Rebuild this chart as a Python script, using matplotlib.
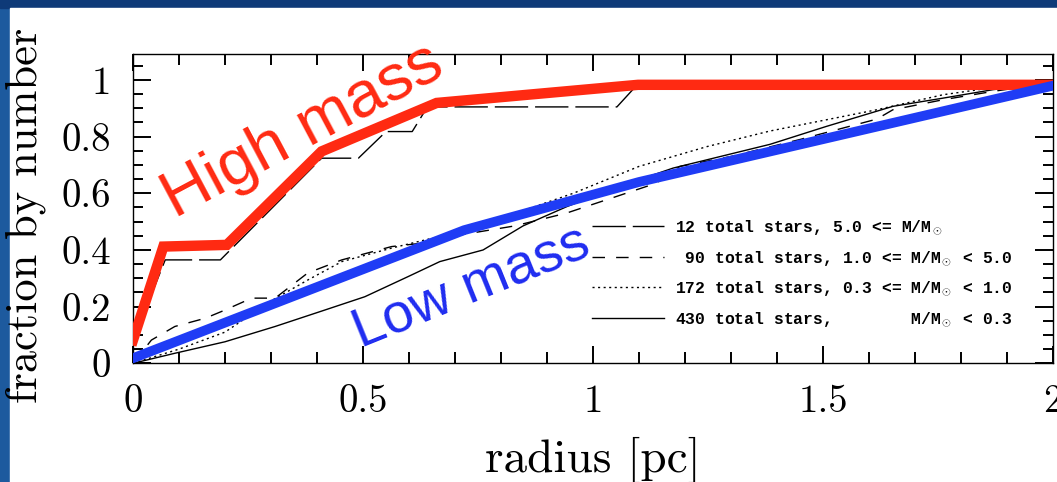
import matplotlib
matplotlib.use('Agg')
import matplotlib.pyplot as plt
from matplotlib.patches import Rectangle
from matplotlib.ticker import MultipleLocator, FuncFormatter

# high mass: 12 stars, long dash
hi_x = [0.0, 0.07, 0.19, 0.41, 0.49, 0.55, 0.607, 0.64, 1.052, 1.10, 2.0]
hi_y = [0.08, 0.365, 0.365, 0.724, 0.724, 0.818, 0.818, 0.905, 0.905, 0.99, 0.99]

# 90 stars, short dash
mid_x = [0.0, 0.04, 0.091, 0.157, 0.2, 0.258, 0.309, 0.38, 0.454, 0.562, 0.634, 0.70,
         0.83, 0.942, 1.029, 1.138, 1.189, 1.3, 1.45, 1.617, 1.652, 1.76, 1.87, 2.0]
mid_y = [0.0, 0.082, 0.13, 0.159, 0.188, 0.23, 0.23, 0.319, 0.365, 0.412, 0.425, 0.45,
         0.485, 0.53, 0.577, 0.636, 0.695, 0.73, 0.79, 0.862, 0.895, 0.93, 0.96, 0.99]

# 172 stars, dotted
dot_x = [0.0, 0.1, 0.2, 0.3, 0.38, 0.454, 0.563, 0.672, 0.74, 0.85, 0.957, 1.10,
         1.248, 1.385, 1.617, 1.761, 1.9, 2.0]
dot_y = [0.0, 0.05, 0.11, 0.22, 0.294, 0.359, 0.407, 0.45, 0.486, 0.54, 0.60, 0.695,
         0.765, 0.82, 0.895, 0.948, 0.98, 0.99]

# 430 stars, solid
low_x = [0.0, 0.09, 0.2, 0.309, 0.417, 0.504, 0.598, 0.667, 0.761, 0.848, 0.943, 1.05,
         1.174, 1.385, 1.507, 1.652, 1.761, 1.87, 2.0]
low_y = [0.0, 0.035, 0.076, 0.13, 0.188, 0.235, 0.306, 0.359, 0.40, 0.485, 0.553, 0.62,
         0.689, 0.773, 0.836, 0.907, 0.936, 0.966, 0.99]

# hand drawn summary lines
red_x = [0.0, 0.066, 0.204, 0.41, 0.66, 1.098, 2.0]
red_y = [0.082, 0.412, 0.418, 0.748, 0.919, 0.983, 0.983]
blue_x = [0.0, 0.72, 1.1, 2.0]
blue_y = [0.018, 0.47, 0.64, 0.98]

labels = [
    r'12 total stars, 5.0 <= M/M$_\odot$',
    r' 90 total stars, 1.0 <= M/M$_\odot$ < 5.0',
    r'172 total stars, 0.3 <= M/M$_\odot$ < 1.0',
    r'430 total stars,        M/M$_\odot$ < 0.3',
]

plt.rcParams['mathtext.fontset'] = 'custom'
plt.rcParams['mathtext.rm'] = 'Liberation Mono:bold'
plt.rcParams['mathtext.it'] = 'Liberation Mono:bold'
plt.rcParams['mathtext.bf'] = 'Liberation Mono:bold'

fig = plt.figure(figsize=(10.57, 4.82), dpi=100, facecolor='#1d5a9e')
W, H = 1057, 482
fig.patches.append(Rectangle((0, 1 - 8 / H), 1, 8 / H, transform=fig.transFigure,
                             color='#0e3a78', zorder=-10))
fig.patches.append(Rectangle((10 / W, 0), 1, 1 - 8 / H, transform=fig.transFigure,
                             color='white', zorder=-10))

ax = fig.add_axes([133 / W, (H - 363.3) / H, 920 / W, (363.3 - 54.5) / H])
ax.set_facecolor('white')

l1, = ax.plot(hi_x, hi_y, color='black', lw=1.0, dashes=(24, 5), zorder=2)
l2, = ax.plot(mid_x, mid_y, color='black', lw=1.0, dashes=(9, 8), zorder=2)
l3, = ax.plot(dot_x, dot_y, color='black', lw=1.0, dashes=(1.5, 2.5), zorder=2)
l4, = ax.plot(low_x, low_y, color='black', lw=1.0, zorder=2)

ax.plot(red_x, red_y, color='#ff2a12', lw=7.5, solid_joinstyle='miter', zorder=3)
ax.plot(blue_x, blue_y, color='#1f3cf5', lw=7, solid_joinstyle='miter', zorder=3)

ax.text(0.37, 0.82, 'High mass', color='#ff2a12', fontsize=47, rotation=28,
        family='Liberation Sans', ha='center', va='center', zorder=4)
ax.text(0.735, 0.265, 'Low mass', color='#1f2cf0', fontsize=40, rotation=22,
        family='Liberation Sans', ha='center', va='center', zorder=4)

leg = ax.legend([l1, l2, l3, l4], labels, loc='upper left', bbox_to_anchor=(0.4986, 0.468),
                frameon=False, borderpad=0, borderaxespad=0, handlelength=4.4,
                handletextpad=0.7, labelspacing=0.72,
                prop={'family': 'Liberation Mono', 'weight': 'bold', 'size': 11.8})

ax.set_xlim(0, 2)
ax.set_ylim(0, 1.09)
ax.xaxis.set_major_locator(MultipleLocator(0.5))
ax.xaxis.set_minor_locator(MultipleLocator(0.1))
ax.yaxis.set_major_locator(MultipleLocator(0.2))
ax.yaxis.set_minor_locator(MultipleLocator(0.05))
fmt = FuncFormatter(lambda v, p: f'{v:g}')
ax.xaxis.set_major_formatter(fmt)
ax.yaxis.set_major_formatter(fmt)

ax.tick_params(which='both', direction='in', top=True, right=True, width=1.4,
               color='black')
ax.tick_params(axis='x', which='major', length=12, pad=15)
ax.tick_params(axis='x', which='minor', length=8)
ax.tick_params(axis='y', which='major', length=13, pad=16)
ax.tick_params(axis='y', which='minor', length=7)
for lab in ax.get_xticklabels() + ax.get_yticklabels():
    lab.set_family('cmr10')
    lab.set_fontsize(28)
for s in ax.spines.values():
    s.set_linewidth(1.0)

fig.text(593 / W, 1 - 460 / H, 'radius [pc]', family='cmr10', fontsize=34,
         ha='center', va='center')
fig.text(26 / W, 1 - 215 / H, 'fraction by number', family='cmr10', fontsize=32,
         rotation=90, ha='center', va='center')

fig.savefig('out.png', dpi=100, facecolor=fig.get_facecolor())
